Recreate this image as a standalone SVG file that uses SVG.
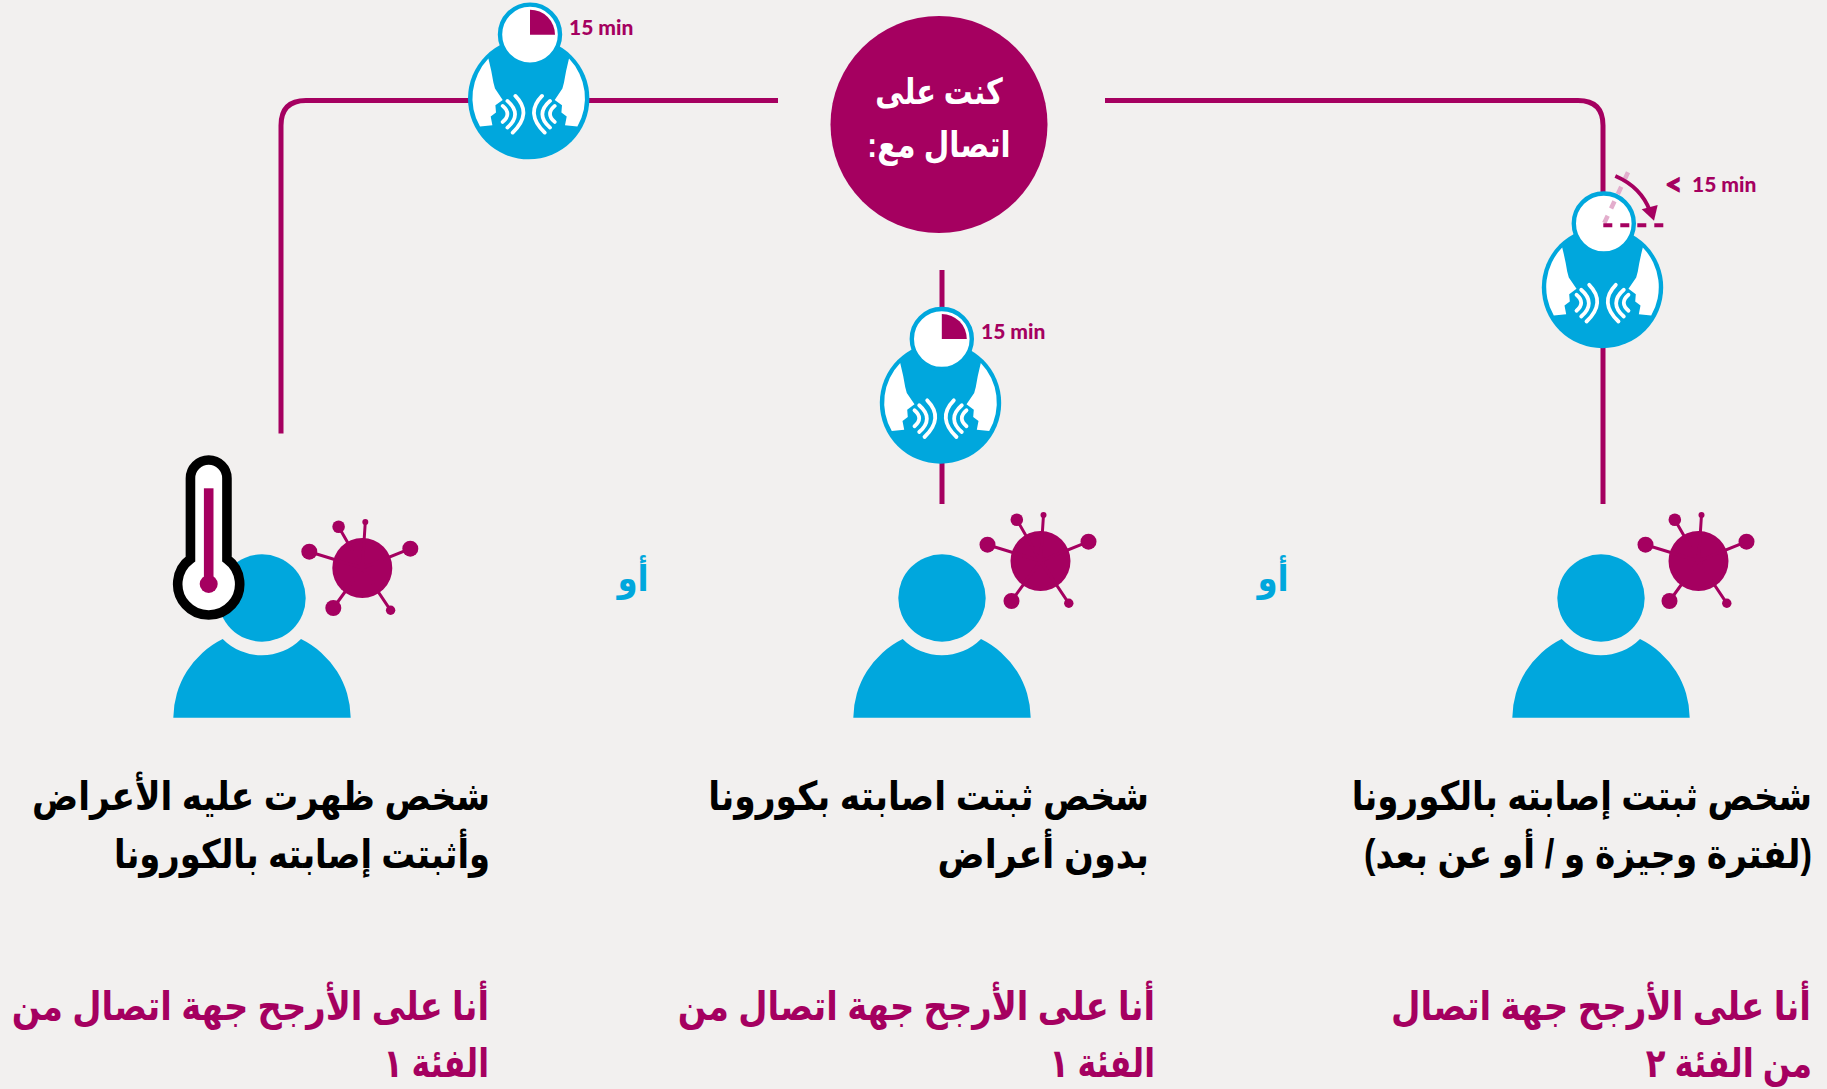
<svg xmlns="http://www.w3.org/2000/svg" width="1827" height="1089" viewBox="0 0 1827 1089">
<style>
.ar{font-family:"Liberation Sans","DejaVu Sans",sans-serif;font-weight:700;direction:rtl;text-anchor:start}
.bk{font-size:40px;fill:#000}
.mg{font-size:40px;fill:#a50060}
.wh{font-size:36px;fill:#fff;text-anchor:middle}
.or{font-size:36px;fill:#00a7dd;text-anchor:middle}
.mn{font-family:"Lato",sans-serif;font-weight:900;font-size:21px;fill:#a50060}
.ln{fill:none;stroke:#a50060;stroke-width:5}
.snd{fill:none;stroke:#fff;stroke-width:3.8;stroke-linecap:round}
</style>
<defs>
<g id="talk">
<circle r="60.7" fill="#00a7dd"/>
<path d="M-40.3-40Q-37-27-35.300-16L-33.700-10L-26 1.300L-33.300 6.700L-32.700 14L-38 18L-36.300 26.700L-48.700 28A57 57 0 0 1-40.300-40Z" fill="#fff"/>
<path d="M40.300-40Q37-27 35.300-16L33.700-10L26 1.300L33.300 6.700L32.700 14L38 18L36.300 26.700L48.700 28A57 57 0 0 0 40.300-40Z" fill="#fff"/>
<path class="snd" d="M-26 7.300Q-16.600 15.300-26 23.300M-21.300 2.300Q-6 15.600-21.300 29M-13.300-2.700Q4 15-16 34M26 7.300Q16.600 15.300 26 23.300M21.300 2.300Q6 15.600 21.300 29M13.300-2.700Q-4 15 16 34"/>
<circle cx="1.300" cy="-64" r="30" fill="#fff" stroke="#00a7dd" stroke-width="4.400"/>
</g>
<path id="wedge" d="M0 0V-25A25 25 0 0 1 25 0Z" fill="#a50060"/>
<g id="person" fill="#00a7dd">
<circle r="43.700"/>
<path d="M-88.700 119.700A88.700 88.700 0 0 1-39.300 41A55 55 0 0 0 39 41A88.700 88.700 0 0 1 88.700 119.700Z"/>
</g>
<g id="virus" fill="#a50060" stroke="#a50060">
<circle r="30" stroke="none"/>
<path stroke-width="3" fill="none" d="M0 0L-23.700-41.300M0 0L3-46M0 0L48-19.300M0 0L-53-16.300M0 0L-29 40M0 0L28.300 42.300"/>
<g stroke="none"><circle cx="-23.700" cy="-41.300" r="6.300"/><circle cx="3" cy="-46" r="3"/><circle cx="48" cy="-19.300" r="8"/><circle cx="-53" cy="-16.300" r="8"/><circle cx="-29" cy="40" r="8"/><circle cx="28.300" cy="42.300" r="4.700"/></g>
</g>
</defs>
<rect width="1827" height="1089" fill="#f2f0ef"/>
<g id="connectors">
<path class="ln" d="M778 100.500H306Q281 100.500 281 125.500V433.500"/>
<path class="ln" d="M1105 100.500H1578Q1603 100.500 1603 125.500V504"/>
<path class="ln" d="M942 270V504"/>
</g>
<g id="source"><circle cx="939" cy="124.500" r="108.500" fill="#a50060"/><text class="ar wh" transform="translate(939 104) scale(.8 1)">كنت على</text><text class="ar wh" transform="translate(939 157) scale(.82 1)">اتصال مع:</text></g>
<g id="talk-left"><use href="#talk" x="528.700" y="98.600"/><use href="#wedge" x="530" y="34.700"/><text class="mn" x="569" y="34.500">15 min</text></g>
<g id="talk-mid"><use href="#talk" x="940.500" y="403"/><use href="#wedge" x="941.800" y="339"/><text class="mn" x="981" y="339">15 min</text></g>
<g id="talk-right"><use href="#talk" x="1602.500" y="287.500"/>
<path d="M1604.300 223L1628.300 171.700" fill="none" stroke="#e3aecd" stroke-width="4.500" stroke-dasharray="8 8"/>
<path d="M1603.300 225.300H1664" fill="none" stroke="#a50060" stroke-width="4" stroke-dasharray="9 8"/>
<path d="M1615.300 176Q1641 187 1650 211" fill="none" stroke="#a50060" stroke-width="4"/>
<path d="M1641.700 209.300L1657.700 205L1654 220.700Z" fill="#a50060"/>
<text class="mn" y="192"><tspan x="1665" y="195" font-size="30" stroke="#a50060" stroke-width="1">&lt;</tspan><tspan x="1692" y="192">15 min</tspan></text></g>
<g id="person-left"><use href="#person" x="262" y="598"/><use href="#virus" x="362.300" y="568"/>
<path d="M190.450 559V478.250A18.250 18.250 0 0 1 226.950 478.250V559A31 31 0 1 1 190.450 559Z" fill="#fff" stroke="#000" stroke-width="9.600"/>
<rect x="203.900" y="488.300" width="9.600" height="90" fill="#a50060"/><circle cx="208.700" cy="584" r="9" fill="#a50060"/></g>
<g id="person-mid"><use href="#person" x="942" y="598"/><use href="#virus" x="1040.500" y="561"/></g>
<g id="person-right"><use href="#person" x="1601" y="598"/><use href="#virus" x="1698.500" y="561"/></g>
<text class="ar or" transform="translate(633 591) scale(.9 1)">أو</text>
<text class="ar or" transform="translate(1273 591) scale(.9 1)">أو</text>
<g id="label-left"><text class="ar bk" transform="translate(490 810) scale(.86 1)">شخص ظهرت عليه الأعراض</text><text class="ar bk" transform="translate(490 868) scale(.845 1)">وأثبتت إصابته بالكورونا</text><text class="ar mg" transform="translate(489 1020) scale(.844 1)">أنا على الأرجح جهة اتصال من</text><text class="ar mg" transform="translate(489 1077) scale(.79 1)">الفئة ١</text></g>
<g id="label-mid"><text class="ar bk" transform="translate(1149 810) scale(.864 1)">شخص ثبتت اصابته بكورونا</text><text class="ar bk" transform="translate(1149 868) scale(.875 1)">بدون أعراض</text><text class="ar mg" transform="translate(1155 1020) scale(.844 1)">أنا على الأرجح جهة اتصال من</text><text class="ar mg" transform="translate(1155 1077) scale(.79 1)">الفئة ١</text></g>
<g id="label-right"><text class="ar bk" transform="translate(1812 810) scale(.852 1)">شخص ثبتت إصابته بالكورونا</text><text class="ar bk" transform="translate(1812 868) scale(.863 1)">(لفترة وجيزة و / أو عن بعد)</text><text class="ar mg" transform="translate(1811 1020) scale(.851 1)">أنا على الأرجح جهة اتصال</text><text class="ar mg" transform="translate(1812 1077) scale(.81 1)">من الفئة ٢</text></g>
</svg>
